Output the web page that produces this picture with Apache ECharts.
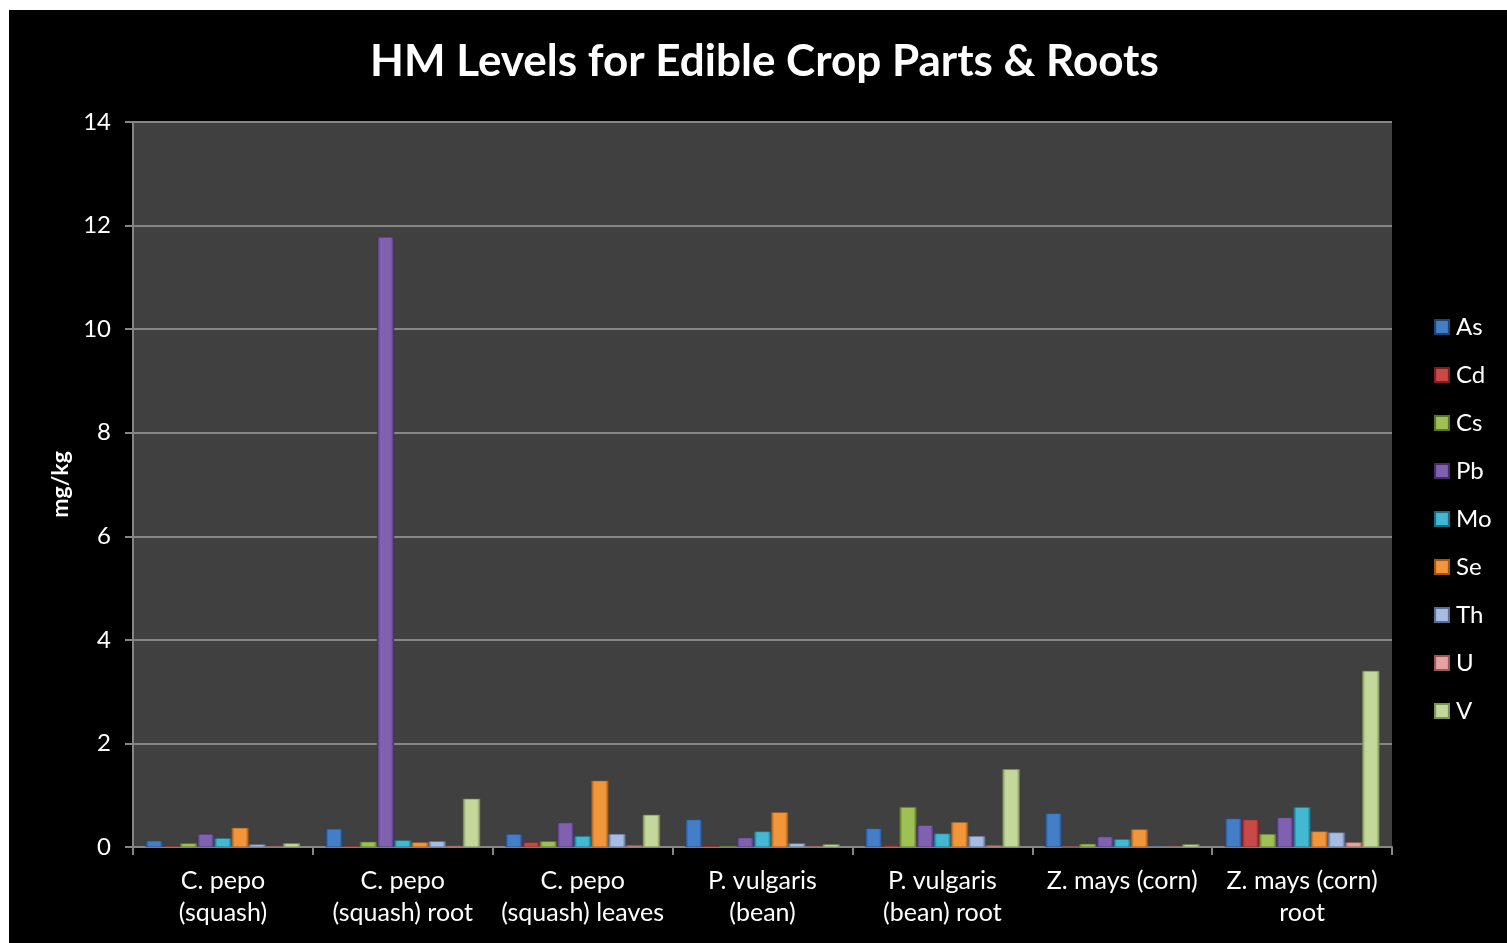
<!DOCTYPE html>
<html>
<head>
<meta charset="utf-8">
<script src="https://cdn.jsdelivr.net/npm/echarts@6.0.0/dist/echarts.min.js"></script>
<style>
  body { margin: 0; background: #fff; }
  #chart { position: absolute; left: 9px; top: 10px; width: 1498px; height: 933px; background: #000; }
</style>
</head>
<body>
<div id="chart"></div>
<script>
// crop parts on the x axis
const categories = [
    "C. pepo\n(squash)",
    "C. pepo\n(squash) root",
    "C. pepo\n(squash) leaves",
    "P. vulgaris\n(bean)",
    "P. vulgaris\n(bean) root",
    "Z. mays (corn)",
    "Z. mays (corn)\nroot"
];

// mg/kg per element, one value per category
const As = [0.12, 0.35, 0.25, 0.53, 0.36, 0.65, 0.55];
const Cd = [0.02, 0.02, 0.09, 0.02, 0.03, 0.00, 0.53];
const Cs = [0.07, 0.10, 0.11, 0.01, 0.77, 0.06, 0.25];
const Pb = [0.25, 11.78, 0.47, 0.18, 0.42, 0.20, 0.57];
const Mo = [0.17, 0.13, 0.21, 0.30, 0.26, 0.15, 0.77];
const Se = [0.37, 0.09, 1.28, 0.67, 0.48, 0.34, 0.30];
const Th = [0.05, 0.11, 0.25, 0.07, 0.21, 0.01, 0.28];
const U = [0.01, 0.02, 0.03, 0.01, 0.03, 0.01, 0.09];
const V = [0.07, 0.93, 0.62, 0.05, 1.50, 0.05, 3.40];

const yTicks = [0, 2, 4, 6, 8, 10, 12, 14];

// [dark edge, light centre] for each element
const palette = {
    As: ["#1c4478", "#437ec6"],
    Cd: ["#7e1e1e", "#c94848"],
    Cs: ["#587426", "#9fc052"],
    Pb: ["#432c68", "#7f61b0"],
    Mo: ["#186b80", "#42b8d2"],
    Se: ["#a45510", "#f1963a"],
    Th: ["#5a6d93", "#a6bce2"],
    U:  ["#9c5656", "#e4a2a2"],
    V:  ["#7a9255", "#c3d89a"]
};

const seriesData = { As, Cd, Cs, Pb, Mo, Se, Th, U, V };

function barColor(name) {
    const [dark, light] = palette[name];
    return new echarts.graphic.LinearGradient(0, 0, 1, 0, [
        { offset: 0, color: dark },
        { offset: 0.18, color: light },
        { offset: 0.82, color: light },
        { offset: 1, color: dark }
    ]);
}

const font = "Lato, 'Open Sans', sans-serif";

const series = Object.keys(seriesData).map(name => ({
    name: name,
    type: "bar",
    data: seriesData[name],
    barGap: "0%",
    barCategoryGap: "14%",
    itemStyle: { color: barColor(name), borderColor: palette[name][0], borderWidth: 0.5 }
}));

const chart = echarts.init(document.getElementById("chart"));
chart.setOption({
    backgroundColor: "#000",
    animation: false,
    title: {
        text: "HM Levels for Edible Crop Parts & Roots",
        left: 361,
        top: 30,
        padding: 0,
        textStyle: { color: "#fff", fontFamily: font, fontWeight: "bold", fontSize: 44 }
    },
    legend: {
        orient: "vertical",
        left: 1420,
        top: 300,
        itemWidth: 14,
        itemHeight: 14,
        itemGap: 24,
        icon: "rect",
        textStyle: { color: "#fff", fontFamily: font, fontSize: 24, padding: [0, 0, 0, 2] }
    },
    grid: { show: true, backgroundColor: "#404040", borderWidth: 0, left: 124, right: 115, top: 112, bottom: 96 },
    xAxis: {
        type: "category",
        data: categories,
        axisLine: { lineStyle: { color: "#868686", width: 2 } },
        axisTick: { show: true, length: 8, lineStyle: { color: "#868686", width: 2 } },
        axisLabel: {
            color: "#fff", fontFamily: font, fontSize: 25, lineHeight: 32,
            margin: 18, interval: 0
        }
    },
    yAxis: {
        type: "value",
        min: yTicks[0],
        max: yTicks[yTicks.length - 1],
        interval: 2,
        name: "mg/kg",
        nameLocation: "middle",
        nameGap: 61,
        nameTextStyle: { color: "#fff", fontFamily: font, fontWeight: "bold", fontSize: 23 },
        axisLine: { show: true, lineStyle: { color: "#868686", width: 2 } },
        axisTick: { show: true, length: 8, lineStyle: { color: "#868686", width: 2 } },
        axisLabel: { color: "#fff", fontFamily: font, fontSize: 24, margin: 22 },
        splitLine: { lineStyle: { color: "#868686", width: 2 } }
    },
    series: series
});
</script>
</body>
</html>
